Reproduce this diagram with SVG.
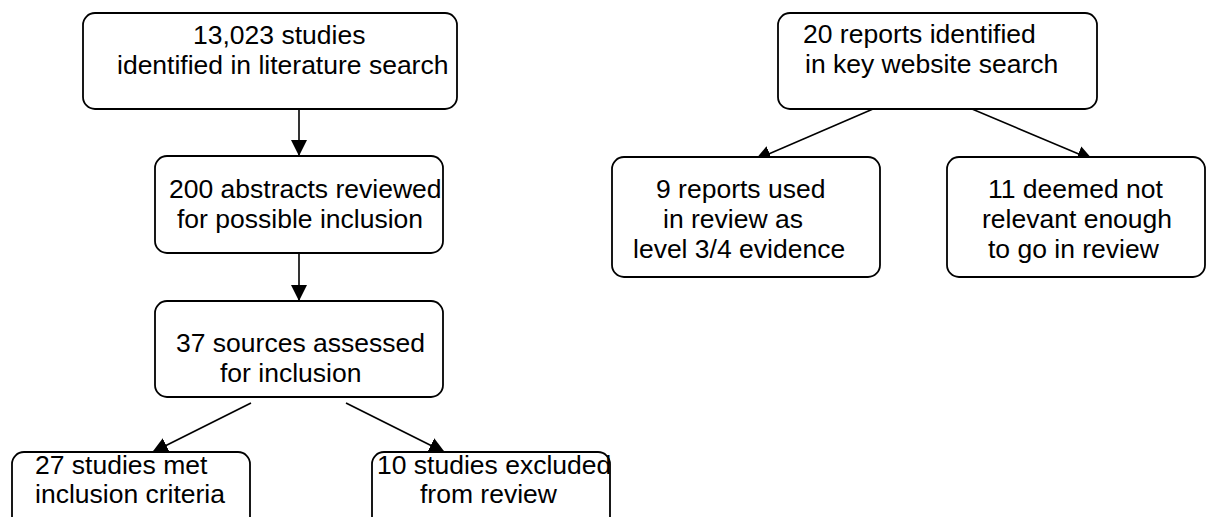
<svg xmlns="http://www.w3.org/2000/svg" width="1207" height="517" viewBox="0 0 1207 517">
<style>
.box{fill:#fff;stroke:#000;stroke-width:1.8}
.lbl{font-family:"Liberation Sans",Arial,sans-serif;font-size:26.5px;fill:#000}
.conn{stroke:#000;stroke-width:1.6;fill:none;marker-end:url(#ah)}
</style>
<defs>
<marker id="ah" markerUnits="userSpaceOnUse" markerWidth="16" markerHeight="16" refX="16" refY="8" orient="auto">
<path d="M0,0 L16,8 L0,16 z" fill="#000"/>
</marker>
</defs>
<rect width="1207" height="517" fill="#fff"/>
<g id="connectors">
<line class="conn" x1="299" y1="109" x2="299" y2="156"/>
<line class="conn" x1="299" y1="253" x2="299" y2="301"/>
<line class="conn" x1="251" y1="403" x2="152" y2="452.5"/>
<line class="conn" x1="346" y1="403" x2="445" y2="452.5"/>
<line class="conn" x1="873" y1="109" x2="755" y2="160"/>
<line class="conn" x1="972" y1="109" x2="1093" y2="160"/>
</g>
<g id="n1">
<rect class="box" x="83" y="13" width="374" height="96" rx="12"/>
<text class="lbl" x="193" y="44">13,023 studies</text>
<text class="lbl" x="117" y="74">identified in literature search</text>
</g>
<g id="n2">
<rect class="box" x="155" y="156" width="288" height="97" rx="12"/>
<text class="lbl" x="169" y="198">200 abstracts reviewed</text>
<text class="lbl" x="177" y="228">for possible inclusion</text>
</g>
<g id="n3">
<rect class="box" x="155" y="301" width="288" height="96" rx="12"/>
<text class="lbl" x="176" y="352">37 sources assessed</text>
<text class="lbl" x="220" y="382">for inclusion</text>
</g>
<g id="n4">
<rect class="box" x="12" y="452" width="238" height="90" rx="12"/>
<text class="lbl" x="35" y="474">27 studies met</text>
<text class="lbl" x="35" y="503">inclusion criteria</text>
</g>
<g id="n5">
<rect class="box" x="372" y="452" width="238" height="90" rx="12"/>
<text class="lbl" x="377" y="474">10 studies excluded</text>
<text class="lbl" x="420" y="503">from review</text>
</g>
<g id="r1">
<rect class="box" x="778" y="13" width="319" height="96" rx="12"/>
<text class="lbl" x="803" y="43">20 reports identified</text>
<text class="lbl" x="805" y="73">in key website search</text>
</g>
<g id="r2">
<rect class="box" x="612" y="157" width="268" height="120" rx="12"/>
<text class="lbl" x="656" y="198">9 reports used</text>
<text class="lbl" x="663" y="228">in review as</text>
<text class="lbl" x="633" y="258">level 3/4 evidence</text>
</g>
<g id="r3">
<rect class="box" x="947" y="157" width="258" height="120" rx="12"/>
<text class="lbl" x="988" y="198">11 deemed not</text>
<text class="lbl" x="982" y="228">relevant enough</text>
<text class="lbl" x="988" y="258">to go in review</text>
</g>
</svg>
